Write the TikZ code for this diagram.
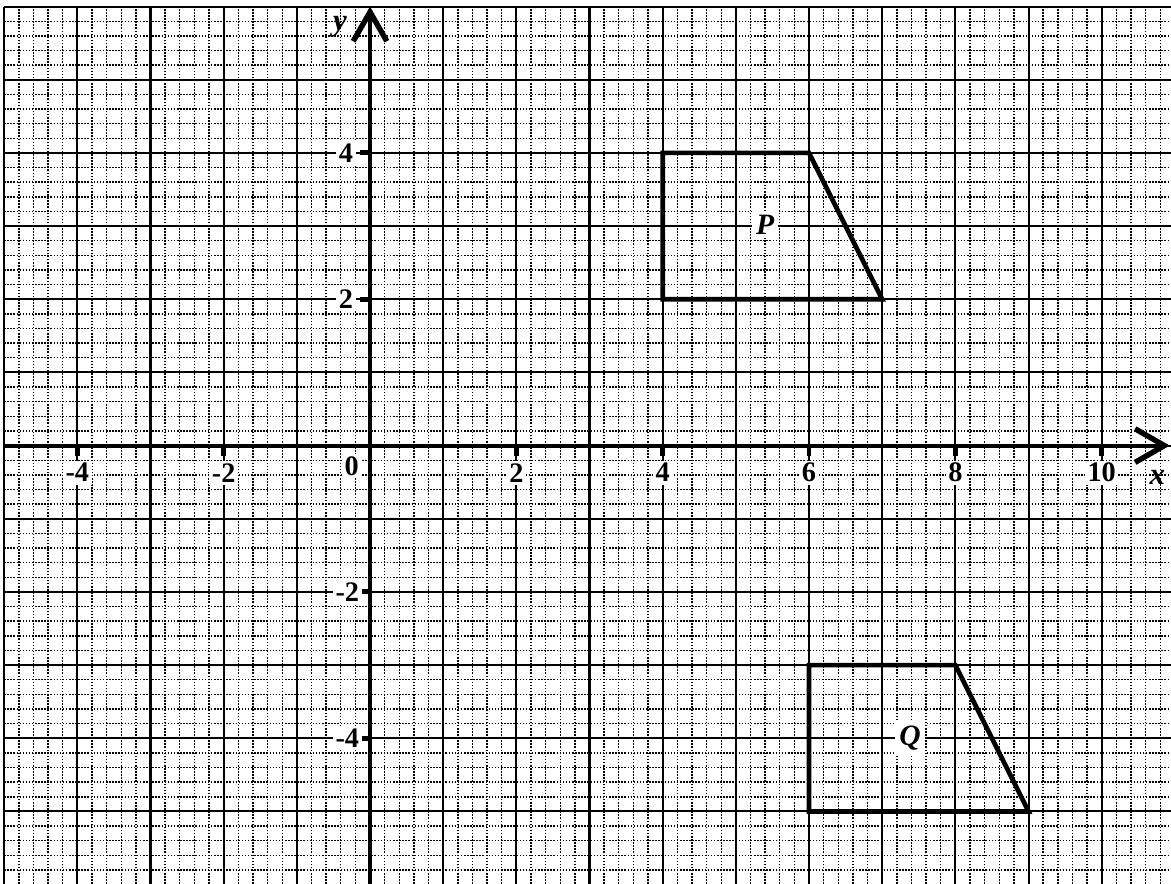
\documentclass[tikz,border=0pt]{standalone}
\usepackage{fontspec}
\setmainfont{Liberation Serif}
\usetikzlibrary{arrows.meta}
\begin{document}
\begin{tikzpicture}[x=1cm,y=1cm,
  minorline/.style={line width=0.55pt, dash pattern=on 0.6pt off 0.6pt},
  majorline/.style={line width=0.8pt},
  axisline/.style={line width=1.6pt, -{Straight Barb[length=4mm,width=4.6mm,line width=2.1pt]}},
  figline/.style={line width=1.8pt, line join=miter},
  axtick/.style={line width=1.9pt},
  lab/.style={fill=white, inner sep=1pt, font=\fontsize{11}{13}\selectfont\bfseries},
  letter/.style={fill=white, inner sep=1.5pt, font=\fontsize{11.5}{13}\selectfont\bfseries\itshape}
]
\useasboundingbox (-5.057,-5.98) rectangle (10.947,6.09);
\begin{scope}
  \clip (-5.057,-5.98) rectangle (10.947,6.09);
  \foreach \i in {-25,...,55} \draw[minorline] (\i*0.2,-6.2) -- (\i*0.2,6);
  \foreach \j in {-31,...,30} \draw[minorline] (-5,\j*0.2) -- (11.2,\j*0.2);
  \foreach \i in {-5,...,11} \draw[majorline] (\i,-6.2) -- (\i,6);
  \foreach \j in {-6,...,6} \draw[majorline] (-5,\j) -- (11.2,\j);
\end{scope}

% axes
\coordinate (xs) at (-5,0);
\coordinate (xe) at (10.93,0);
\coordinate (ys) at (0,-6.2);
\coordinate (ye) at (0,6.0);
\draw[axisline] (xs) -- (xe);
\draw[axisline] (ys) -- (ye);

% ticks
\foreach \v in {-4,-2,2,4,6,8,10} {
  \coordinate (tx\v) at (\v,0);
  \coordinate (txe\v) at (\v,-0.14);
  \draw[axtick] (tx\v) -- (txe\v);
}
\foreach \v in {-4,-2,2,4} {
  \coordinate (ty\v) at (0,\v);
  \coordinate (tye\v) at (-0.14,\v);
  \draw[axtick] (ty\v) -- (tye\v);
}

% x labels
\node[lab] (xlm4) at (-4,-0.37) {-4};
\node[lab] (xlm2) at (-2,-0.37) {-2};
\node[lab] (xl0) at (-0.25,-0.28) {0};
\node[lab] (xl2) at (2,-0.37) {2};
\node[lab] (xl4) at (4,-0.37) {4};
\node[lab] (xl6) at (6,-0.37) {6};
\node[lab] (xl8) at (8,-0.37) {8};
\node[lab] (xl10) at (10,-0.37) {10};

% y labels
\node[lab] (yl4) at (-0.33,4) {4};
\node[lab] (yl2) at (-0.33,2) {2};
\node[lab] (ylm2) at (-0.31,-2) {-2};
\node[lab] (ylm4) at (-0.31,-4) {-4};

% axis names
\node[font=\fontsize{12}{14}\selectfont\bfseries\itshape, inner sep=0pt] (ylab) at (-0.41,5.72) {y};
\node[font=\fontsize{12}{14}\selectfont\bfseries\itshape, inner sep=0pt] (xlab) at (10.76,-0.43) {x};

% shape P
\coordinate (P1) at (4,2);
\coordinate (P2) at (4,4);
\coordinate (P3) at (6,4);
\coordinate (P4) at (7,2);
\draw[figline] (P1) -- (P2) -- (P3) -- (P4) -- cycle;
\node[letter] (Plab) at (5.40,3.02) {P};

% shape Q
\coordinate (Q1) at (6,-5);
\coordinate (Q2) at (6,-3);
\coordinate (Q3) at (8,-3);
\coordinate (Q4) at (9,-5);
\draw[figline] (Q1) -- (Q2) -- (Q3) -- (Q4) -- cycle;
\node[letter] (Qlab) at (7.38,-4.0) {Q};
\end{tikzpicture}
\end{document}
